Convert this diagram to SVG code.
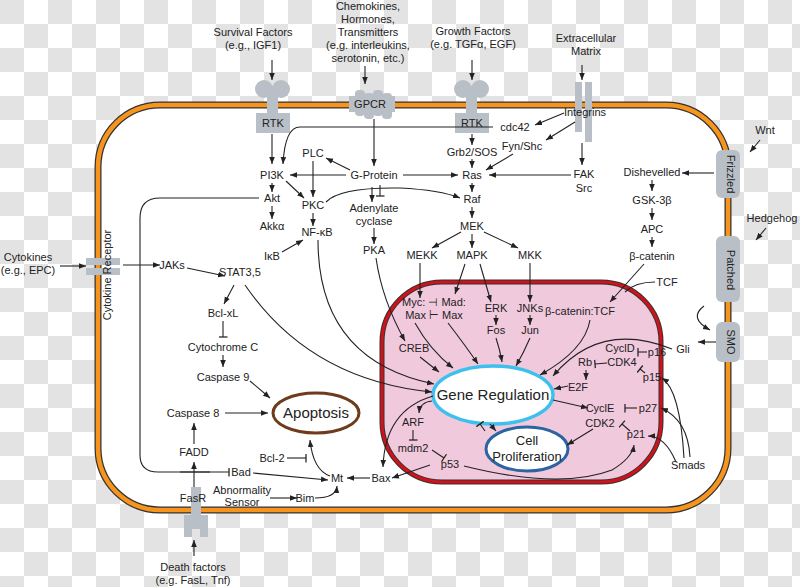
<svg xmlns="http://www.w3.org/2000/svg" width="800" height="587" viewBox="0 0 800 587">
<defs>
<pattern id="chk" width="48" height="48" patternUnits="userSpaceOnUse"><rect width="48" height="48" fill="#fff"/><rect width="24" height="24" fill="#e3e3e3"/><rect x="24" y="24" width="24" height="24" fill="#e3e3e3"/></pattern>
<marker id="a" viewBox="0 0 10 10" refX="10" refY="5" markerWidth="7" markerHeight="7" orient="auto-start-reverse" markerUnits="userSpaceOnUse"><path d="M0,1 L10,5 L0,9 Z" fill="#222"/></marker>
<marker id="t" viewBox="0 0 4 10" refX="2" refY="5" markerWidth="4" markerHeight="9" orient="auto" markerUnits="userSpaceOnUse"><path d="M2,0 V10" stroke="#222" stroke-width="1.4"/></marker>
<style>
text{font-family:"Liberation Sans",Arial,sans-serif;font-size:11px;fill:#222;text-anchor:middle}
.l{fill:none;stroke:#222;stroke-width:1.1}
.ar{marker-end:url(#a)}
.te{marker-end:url(#t)}
.rc{fill:#b9bfc6}
.big{font-size:15px}
</style>
</defs>
<rect width="800" height="587" fill="url(#chk)"/>
<g id="cell">
<rect x="98" y="105" width="630" height="405" rx="62" fill="#fff" stroke="#333" stroke-width="7"/>
<rect x="98" y="105" width="630" height="405" rx="62" fill="none" stroke="#f7941d" stroke-width="4.5"/>
</g>
<g id="nucleus">
<rect x="382" y="282" width="279" height="200" rx="60" fill="#f1c9dd" stroke="#333" stroke-width="5"/>
<rect x="382" y="282" width="279" height="200" rx="60" fill="none" stroke="#d0121b" stroke-width="3"/>
</g>
<g id="receptors">
<g id="rtk1"><circle cx="264" cy="89" r="9" class="rc"/><circle cx="281" cy="89" r="9" class="rc"/><rect x="267" y="92" width="11" height="22" class="rc"/><rect x="256" y="113" width="34" height="20" class="rc"/><text x="273" y="127">RTK</text></g>
<g id="rtk2"><circle cx="463" cy="89" r="9" class="rc"/><circle cx="480" cy="89" r="9" class="rc"/><rect x="466" y="92" width="11" height="22" class="rc"/><rect x="455" y="113" width="34" height="20" class="rc"/><text x="472" y="127">RTK</text></g>
<g id="gpcr"><rect x="355" y="90" width="10" height="26" rx="4" class="rc"/><rect x="364" y="93" width="10" height="26" rx="4" class="rc"/><rect x="373" y="90" width="10" height="26" rx="4" class="rc"/><rect x="382" y="93" width="10" height="26" rx="4" class="rc"/><rect x="349" y="96" width="46" height="16" class="rc"/><text x="370" y="108">GPCR</text></g>
<g id="integrins"><rect x="575" y="82" width="7" height="50" class="rc"/><rect x="585" y="82" width="7" height="60" class="rc"/><text x="585" y="116">Integrins</text></g>
<g id="cytrec"><rect x="86" y="258" width="34" height="7" class="rc"/><rect x="86" y="268" width="34" height="7" class="rc"/><text transform="translate(111,275) rotate(-90)" x="0" y="0" style="text-anchor:middle">Cytokine Receptor</text></g>
<g id="fasr"><rect x="191" y="487" width="10" height="30" class="rc"/><rect x="184" y="515" width="8" height="22" class="rc"/><rect x="200" y="515" width="8" height="22" class="rc"/><rect x="192" y="515" width="8" height="14" class="rc"/></g>
<g id="frizzled"><rect x="716" y="150" width="24" height="48" rx="6" class="rc"/><text transform="translate(731,174) rotate(90)" style="text-anchor:middle" y="4">Frizzled</text></g>
<g id="patched"><rect x="716" y="236" width="24" height="66" rx="6" class="rc"/><text transform="translate(731,270) rotate(90)" style="text-anchor:middle" y="4">Patched</text></g>
<g id="smo"><rect x="716" y="322" width="24" height="40" rx="6" class="rc"/><text transform="translate(731,342) rotate(90)" style="text-anchor:middle" y="4">SMO</text></g>
</g>
<g id="ext">
<text x="253" y="36">Survival Factors</text><text x="253" y="49">(e.g., IGF1)</text>
<text x="368" y="10">Chemokines,</text><text x="368" y="23">Hormones,</text><text x="368" y="36">Transmitters</text><text x="368" y="49">(e.g. interleukins,</text><text x="368" y="62">serotonin, etc.)</text>
<text x="473" y="35">Growth Factors</text><text x="473" y="48">(e.g. TGFα, EGF)</text>
<text x="586" y="42">Extracellular</text><text x="586" y="55">Matrix</text>
<text x="28" y="261">Cytokines</text><text x="28" y="274">(e.g., EPC)</text>
<text x="193" y="571">Death factors</text><text x="193" y="584">(e.g. FasL, Tnf)</text>
<text x="765" y="134">Wnt</text><text x="772" y="222">Hedgehog</text>
</g>
<g id="nodes">
<text x="515" y="131">cdc42</text><text x="522" y="150">Fyn/Shc</text>
<text x="472" y="156">Grb2/SOS</text><text x="472" y="179">Ras</text><text x="472" y="203">Raf</text><text x="472" y="230">MEK</text>
<text x="422" y="259">MEKK</text><text x="472" y="259">MAPK</text><text x="530" y="259">MKK</text>
<text x="584" y="178">FAK</text><text x="584" y="192">Src</text>
<text x="313" y="157">PLC</text><text x="374" y="179">G-Protein</text><text x="272" y="179">PI3K</text>
<text x="272" y="202">Akt</text><text x="272" y="230">Akkα</text><text x="313" y="209">PKC</text><text x="317" y="236">NF-κB</text><text x="272" y="260">IκB</text>
<text x="374" y="212">Adenylate</text><text x="374" y="225">cyclase</text><text x="374" y="254">PKA</text>
<text x="172" y="269">JAKs</text><text x="240" y="276">STAT3,5</text>
<text x="223" y="317">Bcl-xL</text><text x="223" y="351">Cytochrome C</text><text x="223" y="381">Caspase 9</text>
<text x="193" y="417">Caspase 8</text><text x="194" y="456">FADD</text><text x="241" y="476">Bad</text><text x="272" y="462">Bcl-2</text>
<text x="337" y="482">Mt</text><text x="381" y="482">Bax</text>
<text x="242" y="494">Abnormality</text><text x="242" y="506">Sensor</text><text x="305" y="502">Bim</text><text x="193" y="502">FasR</text>
<text x="652" y="176">Dishevelled</text><text x="652" y="204">GSK-3β</text><text x="652" y="233">APC</text><text x="652" y="260">β-catenin</text><text x="667" y="286">TCF</text>
<text x="434" y="306">Myc: ⊣ Mad:</text><text x="434" y="319">Max ⊢ Max</text>
<text x="496" y="312">ERK</text><text x="496" y="334">Fos</text><text x="530" y="312">JNKs</text><text x="530" y="334">Jun</text>
<text x="580" y="315">β-catenin:TCF</text><text x="414" y="352">CREB</text>
<text x="620" y="352">CyclD</text><text x="657" y="356">p16</text><text x="585" y="366">Rb</text><text x="622" y="366">CDK4</text><text x="652" y="381">p15</text>
<text x="578" y="391">E2F</text><text x="683" y="353">Gli</text>
<text x="600" y="412">CyclE</text><text x="648" y="412">p27</text><text x="600" y="427">CDK2</text><text x="636" y="438">p21</text>
<text x="413" y="426">ARF</text><text x="413" y="452">mdm2</text><text x="450" y="468">p53</text><text x="688" y="469">Smads</text>
</g>
<g id="outcomes">
<ellipse cx="493" cy="395" rx="60" ry="29" fill="#fff" stroke="#3ec0ee" stroke-width="3.5"/><text x="493" y="400" class="big">Gene Regulation</text>
<ellipse cx="527" cy="449" rx="41" ry="22" fill="#fff" stroke="#2b64a0" stroke-width="3"/><text x="527" y="445" style="font-size:13px">Cell</text><text x="527" y="461" style="font-size:13px">Proliferation</text>
<ellipse cx="316" cy="413" rx="43" ry="20" fill="#fff" stroke="#6e3b1c" stroke-width="3"/><text x="316" y="418" class="big">Apoptosis</text>
</g>
<g id="connectors">
<path class="l ar" d="M272,60 V80"/><path class="l ar" d="M365,66 V84"/><path class="l ar" d="M472,60 V80"/><path class="l ar" d="M582,65 V80"/>
<path class="l ar" d="M272,134 V164"/><path class="l ar" d="M374,119 V166"/><path class="l ar" d="M472,134 V145"/>
<path class="l ar" d="M493,127 H300 Q285,127 283,164"/>
<path class="l ar" d="M564,113 L535,125"/><path class="l ar" d="M575,122 L546,140"/>
<path class="l ar" d="M582,143 V165"/><path class="l ar" d="M571,175 H489"/>
<path class="l ar" d="M513,154 L486,170"/>
<path class="l ar" d="M472,159 V168"/><path class="l ar" d="M472,183 V192"/><path class="l ar" d="M472,207 V218"/>
<path class="l ar" d="M461,232 L432,248"/><path class="l ar" d="M472,234 V248"/><path class="l ar" d="M484,232 L518,248"/>
<path class="l ar" d="M350,170 L326,158"/><path class="l ar" d="M346,175 H290"/><path class="l ar" d="M403,175 H458"/>
<path class="l ar" d="M313,161 V197"/><path class="l ar" d="M286,181 L304,198"/><path class="l ar" d="M272,183 V192"/><path class="l ar" d="M272,206 V219"/>
<path class="l ar" d="M313,213 V226"/><path class="l ar" d="M282,252 L303,240"/>
<path class="l ar" d="M372,187 V202"/><path class="l te" d="M380,185 V196"/>
<path class="l ar" d="M326,202 Q340,187 400,188 Q440,190 460,198"/>
<path class="l ar" d="M374,228 V244"/>
<path class="l" d="M259,198 H160 Q140,198 140,218 V455 Q140,472 158,472 H210"/><path class="l te" d="M180,472 H229"/>
<path class="l ar" d="M60,266 H86"/><path class="l ar" d="M123,265 H160"/><path class="l ar" d="M187,268 L225,276"/>
<path class="l ar" d="M234,285 L224,304"/><path class="l te" d="M223,321 V337"/><path class="l ar" d="M223,355 V367"/>
<path class="l ar" d="M250,381 L270,398"/><path class="l ar" d="M225,413 H268"/><path class="l ar" d="M194,444 V423"/>
<path class="l ar" d="M194,487 V462"/><path class="l ar" d="M194,556 V540"/>
<path class="l ar" d="M253,473 L328,480"/><path class="l ar" d="M270,498 H297"/><path class="l ar" d="M315,498 Q336,498 337,486"/>
<path class="l ar" d="M330,476 Q313,470 310,440"/><path class="l te" d="M287,458 H306"/>
<path class="l ar" d="M370,478 H347"/><path class="l ar" d="M430,465 L392,478"/>
<path class="l ar" d="M433,396 Q385,410 383,467"/>
<path class="l ar" d="M245,285 Q310,380 432,392"/>
<path class="l ar" d="M318,240 Q318,360 434,384"/>
<path class="l ar" d="M376,258 Q382,300 405,341"/>
<path class="l ar" d="M420,357 L439,372"/>
<path class="l ar" d="M420,263 V298"/><path class="l ar" d="M465,264 L455,294"/><path class="l ar" d="M480,264 L491,302"/><path class="l ar" d="M530,263 V302"/>
<path class="l ar" d="M415,323 Q430,350 453,368"/><path class="l ar" d="M448,323 Q465,345 478,364"/>
<path class="l ar" d="M496,315 V325"/><path class="l ar" d="M496,338 Q500,350 502,362"/>
<path class="l ar" d="M530,315 V325"/><path class="l ar" d="M530,338 Q524,352 516,366"/>
<path class="l ar" d="M590,320 Q585,350 540,375"/>
<path class="l ar" d="M672,349 Q600,320 553,376"/>
<path class="l ar" d="M568,386 L554,389"/>
<path class="l ar" d="M553,400 L588,408"/>
<path class="l ar" d="M593,429 L567,445"/>
<path class="l ar" d="M490,424 L496,431"/><path class="l te" d="M485,431 L480,424"/>
<path class="l ar" d="M432,401 Q420,402 419,413"/>
<path class="l te" d="M413,430 V440"/><path class="l te" d="M432,450 L444,458"/>
<path class="l ar" d="M464,466 Q560,490 612,470 Q632,458 634,445"/>
<path class="l ar" d="M716,342 H698"/><path class="l ar" d="M714,173 H682"/>
<path class="l ar" d="M652,180 V191"/><path class="l ar" d="M652,208 V220"/><path class="l ar" d="M652,237 V247"/>
<path class="l ar" d="M644,264 L610,302"/><path class="l" d="M655,282 Q635,282 625,292"/>
<path class="l ar" d="M760,140 L750,152"/><path class="l ar" d="M766,228 L756,240"/>
<path class="l ar" d="M704,306 Q688,318 710,330"/>
<path class="l te" d="M647,352 H638"/><path class="l te" d="M645,373 L640,369"/><path class="l te" d="M607,363 L595,364"/>
<path class="l ar" d="M586,370 V380"/><path class="l te" d="M637,408 H625"/><path class="l te" d="M630,431 L622,424"/>
<path class="l ar" d="M684,458 Q680,390 662,378"/><path class="l ar" d="M690,457 Q688,420 661,408"/><path class="l ar" d="M676,462 Q665,436 648,436"/>
</g>
</svg>
